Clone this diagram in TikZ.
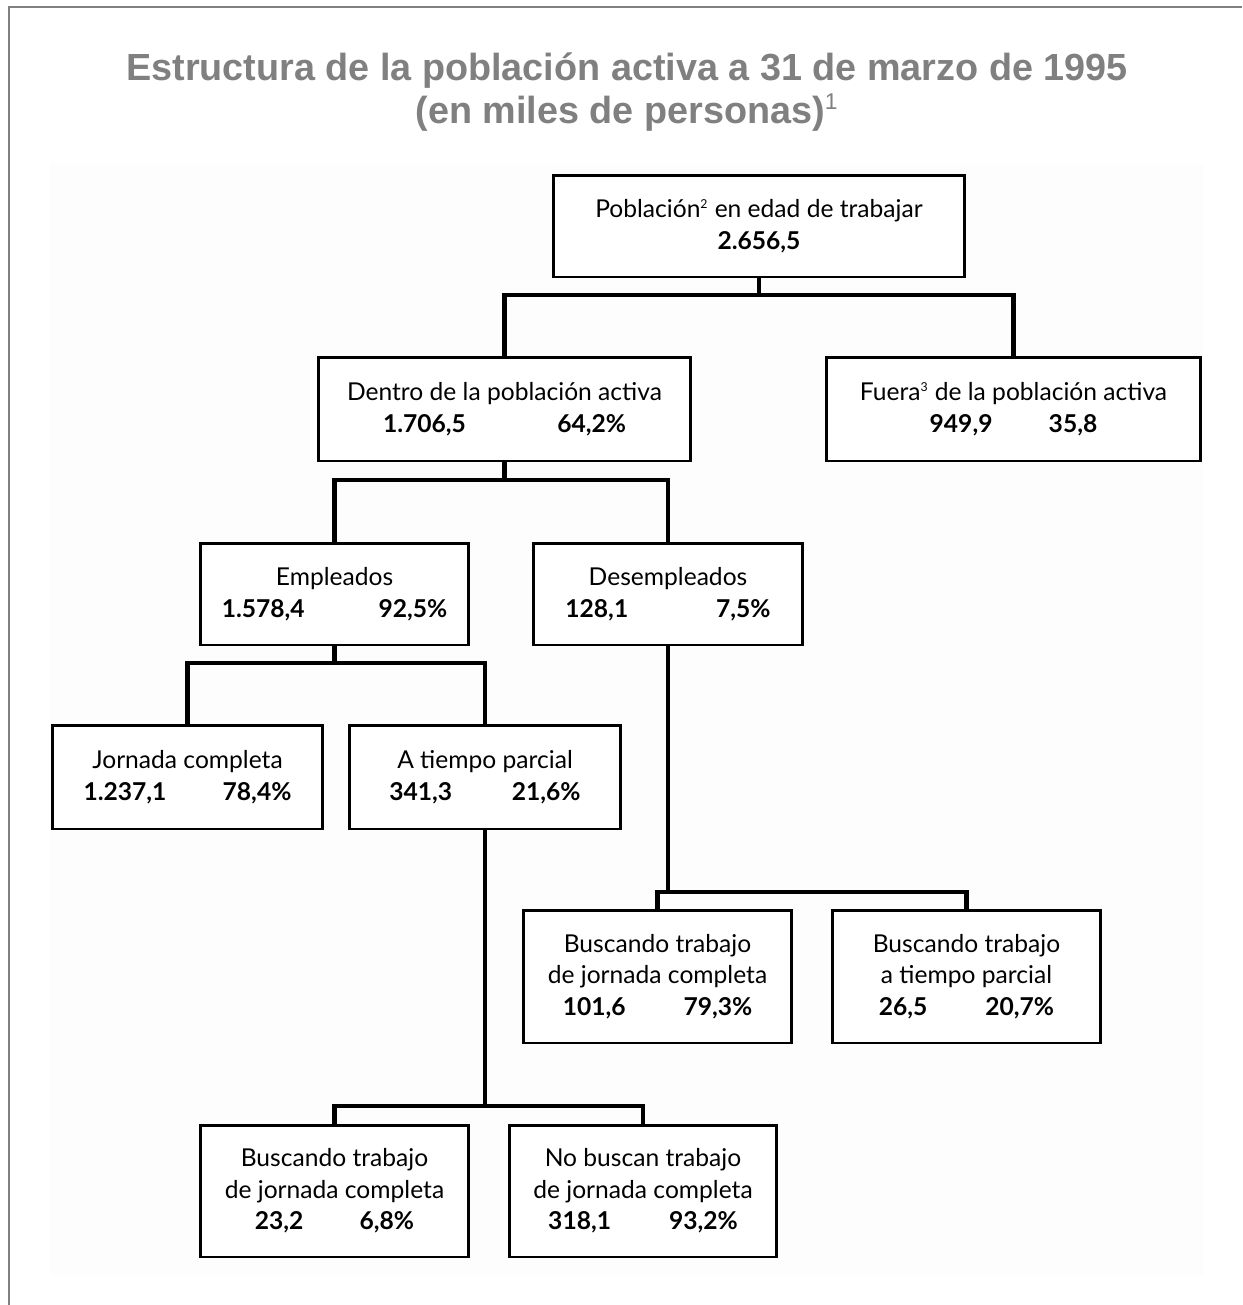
\documentclass[tikz,border=0pt]{standalone}
\usepackage{fontspec}
\setmainfont{Lato}
\newfontfamily\titlefont{Liberation Sans}
\definecolor{titlegray}{RGB}{128,128,128}
\definecolor{faint}{RGB}{253,253,253}
\newcommand\nums[3]{\textbf{#1}\hspace{#3}\textbf{#2}}
\newcommand\sups[1]{\textsuperscript{\fontsize{7}{7}\selectfont #1}}
\begin{document}
\begin{tikzpicture}[x=0.02cm,y=-0.02cm,
  box/.style={draw=black, line width=1.7pt, fill=white, align=center,
    font=\fontsize{14}{18}\selectfont, inner sep=0pt},
  conn/.style={line width=2.3pt, line join=miter},
  ttl/.style={font=\titlefont\bfseries\fontsize{21.5}{24}\selectfont,
    text=titlegray, anchor=base, inner sep=0pt}]
\useasboundingbox (0,0) rectangle (1242,1305);
\fill[white] (0,0) rectangle (1242,1305);
\fill[faint] (50,163) rectangle (1203,1275);
\draw[titlegray, line width=1.1pt] (9,1305) -- (9,7) -- (1242,7);

\node[ttl] (t1) at (627,80) {Estructura de la población activa a 31 de marzo de 1995};
\node[ttl] (t2) at (627,123) {(en miles de personas)\textsuperscript{\mdseries\fontsize{13}{13}\selectfont 1}};

\node[box, minimum width=8.24cm, minimum height=2.04cm] (pob) at (759,226)
  {Población\sups{2} en edad de trabajar\\ \textbf{2.656,5}};
\node[box, minimum width=7.46cm, minimum height=2.08cm] (dentro) at (504.5,409)
  {Dentro de la población activa\\ \nums{1.706,5}{64,2\%}{52pt}};
\node[box, minimum width=7.5cm, minimum height=2.08cm] (fuera) at (1013.5,409)
  {Fuera\sups{3} de la población activa\\ \nums{949,9}{35,8}{32pt}};
\node[box, minimum width=5.38cm, minimum height=2.04cm] (emp) at (334.5,594)
  {Empleados\\ \nums{1.578,4}{92,5\%}{42pt}};
\node[box, minimum width=5.38cm, minimum height=2.04cm] (desemp) at (668,594)
  {Desempleados\\ \nums{128,1}{7,5\%}{50pt}};
\node[box, minimum width=5.42cm, minimum height=2.08cm] (jc) at (187.5,777)
  {Jornada completa\\ \nums{1.237,1}{78,4\%}{32pt}};
\node[box, minimum width=5.42cm, minimum height=2.08cm] (tp) at (485,777)
  {A tiempo parcial\\ \nums{341,3}{21,6\%}{34pt}};
\node[box, minimum width=5.38cm, minimum height=2.66cm] (bjc) at (657.5,976.5)
  {Buscando trabajo\\ de jornada completa\\ \nums{101,6}{79,3\%}{33pt}};
\node[box, minimum width=5.38cm, minimum height=2.66cm] (btp) at (966.5,976.5)
  {Buscando trabajo\\ a tiempo parcial\\ \nums{26,5}{20,7\%}{33pt}};
\node[box, minimum width=5.38cm, minimum height=2.64cm] (bjc2) at (334.5,1191)
  {Buscando trabajo\\ de jornada completa\\ \nums{23,2}{6,8\%}{32pt}};
\node[box, minimum width=5.36cm, minimum height=2.64cm] (nob) at (643,1191)
  {No buscan trabajo\\ de jornada completa\\ \nums{318,1}{93,2\%}{33pt}};

\coordinate (j1) at (759,295);
\coordinate (j2) at (504.5,480);
\coordinate (j3) at (334.5,663);
\coordinate (j4) at (668,892);
\coordinate (j5) at (485,1106);

\draw[conn] (pob.south) -- (j1);
\draw[conn] (dentro.north) |- (j1) -| (fuera.north);
\draw[conn] (dentro.south) -- (j2);
\draw[conn] (emp.north) |- (j2) -| (desemp.north);
\draw[conn] (emp.south) -- (j3);
\draw[conn] (jc.north) |- (j3) -| (tp.north);
\draw[conn] (desemp.south) -- (j4);
\draw[conn] (bjc.north) |- (j4) -| (btp.north);
\draw[conn] (tp.south) -- (j5);
\draw[conn] (bjc2.north) |- (j5) -| (nob.north);
\end{tikzpicture}
\end{document}
